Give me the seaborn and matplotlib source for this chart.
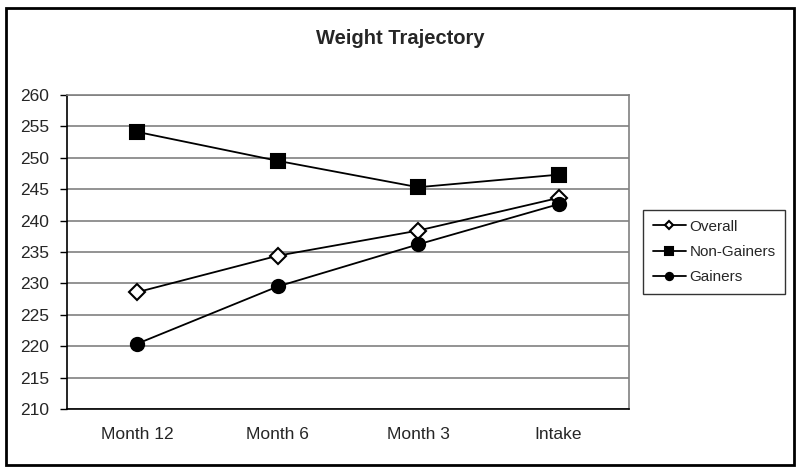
import pandas as pd
import numpy as np
import matplotlib
matplotlib.use("Agg")
import matplotlib.pyplot as plt
import seaborn as sns
from matplotlib.patches import Rectangle

# data
months = ["Month 12", "Month 6", "Month 3", "Intake"]
overall = [228.6, 234.4, 238.4, 243.6]
non_gainers = [254.1, 249.5, 245.3, 247.3]
gainers = [220.4, 229.5, 236.2, 242.6]

sns.set_style("white")
plt.rcParams["font.family"] = ["Liberation Sans", "DejaVu Sans"]

fig = plt.figure(figsize=(8, 4.72), dpi=100)
ax = fig.add_axes([0.084, 0.1335, 0.702, 0.6655])

series = [
    ("Overall", overall, "D", "white", 8),
    ("Non-Gainers", non_gainers, "s", "black", 10),
    ("Gainers", gainers, "o", "black", 9.5),
]
for name, vals, mk, fc, ms in series:
    df = pd.DataFrame({"month": months, "weight": vals})
    sns.lineplot(data=df, x="month", y="weight", ax=ax, color="black",
                 linewidth=1.3, marker=mk, markersize=ms, markerfacecolor=fc,
                 markeredgecolor="black", markeredgewidth=1.5, label=name,
                 legend=False, sort=False)

ax.set_xlim(-0.5, 3.5)
ax.set_ylim(210, 260)
ax.set_yticks(np.arange(210, 261, 5))
ax.yaxis.grid(True, color="#808080", linewidth=1.2)
ax.set_axisbelow(True)
ax.set_xlabel("")
ax.set_ylabel("")

# category boundary ticks on x axis
ax.set_xticks(range(len(months)))
ax.set_xticklabels(months)
ax.set_xticks([-0.5, 0.5, 1.5, 2.5, 3.5], minor=True)
ax.tick_params(axis="x", which="major", length=0, pad=13, labelsize=12.5)
ax.tick_params(axis="x", which="minor", length=4, width=1, direction="out", color="black")
ax.tick_params(axis="y", length=5, width=1, direction="out", color="black",
               labelsize=12.5, pad=8, left=True)

for side in ["left", "bottom"]:
    ax.spines[side].set_color("black")
    ax.spines[side].set_linewidth(1.2)
for side in ["top", "right"]:
    ax.spines[side].set_color("#808080")
    ax.spines[side].set_linewidth(1.2)

fig.text(0.5, 0.918, "Weight Trajectory", ha="center", va="center",
         fontsize=14.5, fontweight="bold")

handles, labels = ax.get_legend_handles_labels()
leg = fig.legend(handles, labels, loc="upper left",
                 bbox_to_anchor=(0.804, 0.555), borderaxespad=0,
                 frameon=True, fancybox=False,
                 edgecolor="black", fontsize=11, handlelength=2.2,
                 handletextpad=0.2, borderpad=0.62, labelspacing=0.75,
                 markerscale=0.55)
leg.get_frame().set_linewidth(1)

# outer chart border
fig.patches.append(Rectangle((0.007, 0.015), 0.986, 0.967, transform=fig.transFigure,
                             fill=False, edgecolor="black", linewidth=2))

plt.savefig("out.png", dpi=100)
